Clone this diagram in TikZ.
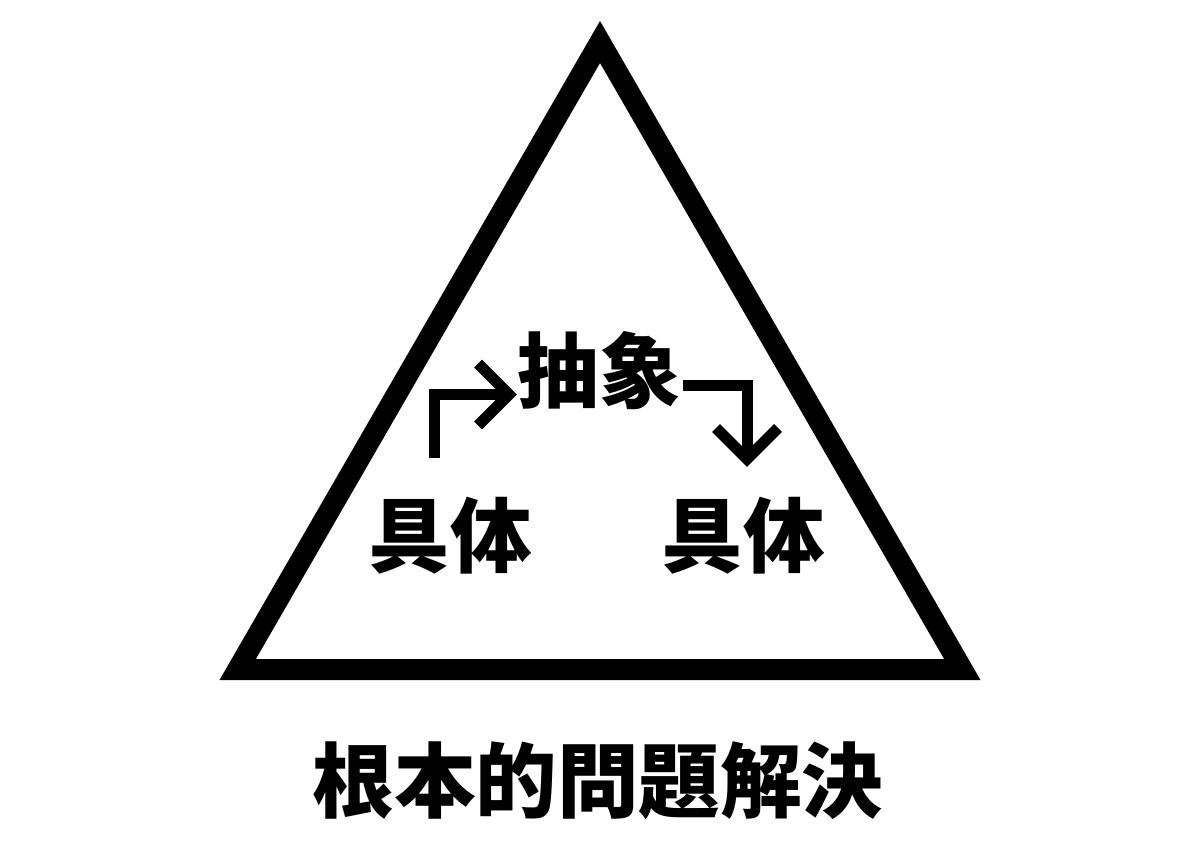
\documentclass[tikz,border=0pt]{standalone}
\usepackage{fontspec}
\usetikzlibrary{calc}
\newfontfamily\cjk{Noto Sans CJK JP}
\begin{document}
\begin{tikzpicture}[x=0.025cm,y=-0.025cm,
  tri/.style={line width=0.525cm, line join=miter},
  arrowline/.style={line width=0.275cm, line join=miter},
  lbl/.style={anchor=base, inner sep=0pt, font=\cjk\bfseries\fontsize{58pt}{60pt}\selectfont}]
\useasboundingbox (0,0) rectangle (1200,848);
% triangle
\coordinate (apex) at (600,42);
\coordinate (br) at (962.3,669.5);
\coordinate (bl) at (237.7,669.5);
\draw[tri] (apex) -- (br) -- (bl) -- cycle;
% texts
\node[lbl] (abs) at (599,401) {抽象};
\node[lbl] (conL) at (450,566) {具体};
\node[lbl] (conR) at (743,566) {具体};
\node[lbl] (title) at (598,811) {根本的問題解決};
% left arrow
\coordinate (l0) at (434.5,458);
\coordinate (l1) at (509,394.5);
\draw[arrowline] (l0) |- (l1);
\draw[arrowline] ($(l1)+(-31,-31)$) -- (l1) -- ($(l1)+(-31,31)$);
% right arrow
\coordinate (r0) at (683,385.5);
\coordinate (r1) at (747,459);
\draw[arrowline] (r0) -| (r1);
\draw[arrowline] ($(r1)+(-31,-31)$) -- (r1) -- ($(r1)+(31,-31)$);
\end{tikzpicture}
\end{document}
